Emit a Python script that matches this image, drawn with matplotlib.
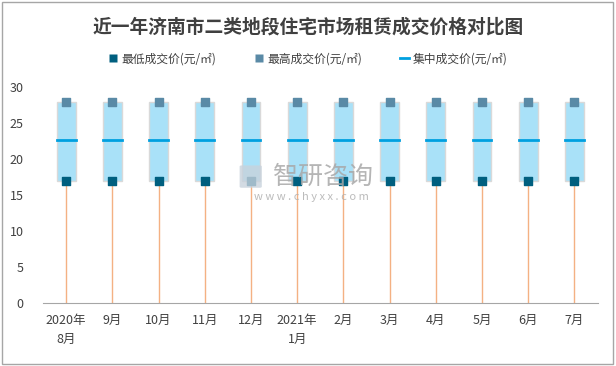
import matplotlib.pyplot as plt
import matplotlib.patches as mpatches
from matplotlib.lines import Line2D

plt.rcParams['font.family'] = ['Noto Sans CJK SC', 'DejaVu Sans']

months = ["2020年\n8月", "9月", "10月", "11月", "12月", "2021年\n1月",
          "2月", "3月", "4月", "5月", "6月", "7月"]
low_price = [17, 17, 17, 17, 17, 17, 17, 17, 17, 17, 17, 17]
high_price = [28, 28, 28, 28, 28, 28, 28, 28, 28, 28, 28, 28]
mid_price = [22.7, 22.7, 22.7, 22.7, 22.7, 22.7, 22.7, 22.7, 22.7, 22.7, 22.7, 22.7]

fig = plt.figure(figsize=(6.16, 3.66), dpi=100)
ax = fig.add_axes([0.07, 0.172, 0.90, 0.59])

x = range(len(months))
w = 0.41
for i in x:
    ax.plot([i, i], [0, low_price[i]], color='#F4B183', lw=1, zorder=1)
    ax.add_patch(mpatches.Rectangle((i - w / 2, low_price[i]), w, high_price[i] - low_price[i],
                                    facecolor='#A9E1F8', edgecolor='#D9D9D9', lw=1, zorder=2))
    ax.plot([i - w / 2, i + w / 2], [mid_price[i], mid_price[i]], color='#00A0E0', lw=2, zorder=3)

ax.scatter(x, low_price, marker='s', s=26, color='#005F7F', zorder=4)
ax.scatter(x, high_price, marker='s', s=26, color='#5A8AA6', zorder=4)

ax.set_xlim(-0.5, len(months) - 0.5)
ax.set_ylim(0, 30)
ax.set_yticks([0, 5, 10, 15, 20, 25, 30])
ax.set_xticks(list(x))
ax.set_xticklabels(months, fontsize=9, color='#404040', linespacing=1.6, va='top')
ax.tick_params(axis='y', labelsize=9, labelcolor='#404040', length=0, pad=14)
ax.tick_params(axis='x', length=0, pad=8)
for s in ['top', 'right', 'left']:
    ax.spines[s].set_visible(False)
ax.spines['bottom'].set_color('#A6A6A6')

fig.text(0.5, 0.925, "近一年济南市二类地段住宅市场租赁成交价格对比图", ha='center', va='center',
         fontsize=13.5, fontweight='bold', color='#404040')

handles = [
    Line2D([], [], marker='s', color='none', markerfacecolor='#005F7F', markeredgecolor='none', markersize=6),
    Line2D([], [], marker='s', color='none', markerfacecolor='#5A8AA6', markeredgecolor='none', markersize=6),
    Line2D([], [], color='#00A0E0', lw=2),
]
labels = ["最低成交价(元/㎡)", "最高成交价(元/㎡)", "集中成交价(元/㎡)"]
fig.legend(handles, labels, loc='center', bbox_to_anchor=(0.5, 0.84), ncol=3, frameon=False,
           fontsize=8.5, handlelength=0.8, handletextpad=0.3, columnspacing=3.2,
           labelcolor='#404040')

# watermark
fig.patches.append(mpatches.FancyBboxPatch((0.392, 0.49), 0.03, 0.055, boxstyle='round,pad=0.003',
                                           transform=fig.transFigure, facecolor='#C8D2DC',
                                           edgecolor='none', alpha=0.8))
fig.text(0.525, 0.518, "智研咨询", fontsize=18, color='#A8A8A8', alpha=0.85, ha='center', va='center')
fig.text(0.505, 0.462, "w w w . c h y x x . c o m", fontsize=8, color='#B0B0B0', alpha=0.85,
         ha='center', va='center')

fig.patches.append(mpatches.Rectangle((0.003, 0.005), 0.992, 0.99, transform=fig.transFigure,
                                      fill=False, edgecolor='#A6A6A6', lw=1))

fig.savefig('out.png', dpi=100)
